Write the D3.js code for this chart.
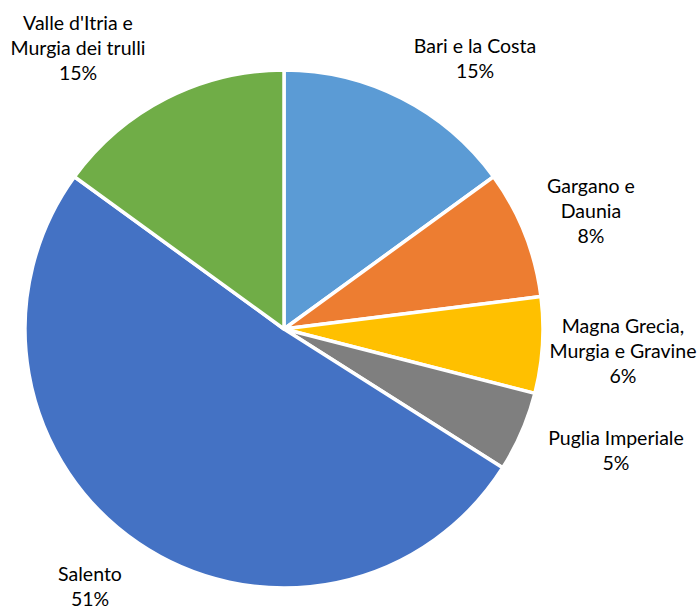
<!DOCTYPE html>
<html>
<head>
<meta charset="utf-8">
<script src="https://cdn.jsdelivr.net/npm/d3@7/dist/d3.min.js"></script>
<style>
  html, body { margin: 0; padding: 0; background: #fff; }
  svg text { font-family: Lato, "Open Sans", sans-serif; font-size: 19.5px; fill: #000; }
</style>
</head>
<body>
<svg id="chart" width="699" height="610"></svg>
<script>
// Share of each tourist area (percent), clockwise from 12 o'clock
const categories = [
  ["Bari e la Costa"],
  ["Gargano e", "Daunia"],
  ["Magna Grecia,", "Murgia e Gravine"],
  ["Puglia Imperiale"],
  ["Salento"],
  ["Valle d'Itria e", "Murgia dei trulli"]
];
const values = [15, 8, 6, 5, 51, 15];
const colors = ["#5B9BD5", "#ED7D31", "#FFC000", "#7F7F7F", "#4472C4", "#70AD47"];
// label anchor positions (centre of each text block)
const labelPos = [[475, 57], [591, 210], [623, 350], [616, 449], [90, 585], [78, 47]];

const svg = d3.select("#chart");
const cx = 284, cy = 329, r = 259;

const pie = d3.pie().sort(null).value(d => d)(values);
const arc = d3.arc().innerRadius(0).outerRadius(r);

const g = svg.append("g").attr("transform", `translate(${cx},${cy})`);
g.selectAll("path")
  .data(pie)
  .join("path")
  .attr("d", arc)
  .attr("fill", (d, i) => colors[i])
  .attr("stroke", "#fff")
  .attr("stroke-width", 3.5)
  .attr("stroke-linejoin", "round");

const lineH = 25;
const labels = svg.append("g");
pie.forEach((d, i) => {
  const lines = categories[i].concat([values[i] + "%"]);
  const [lx, ly] = labelPos[i];
  const top = ly - (lines.length - 1) * lineH / 2;
  const t = labels.append("text")
    .attr("text-anchor", "middle")
    .attr("dominant-baseline", "central");
  lines.forEach((s, k) => {
    t.append("tspan").attr("x", lx).attr("y", top + k * lineH).text(s);
  });
});
</script>
</body>
</html>
